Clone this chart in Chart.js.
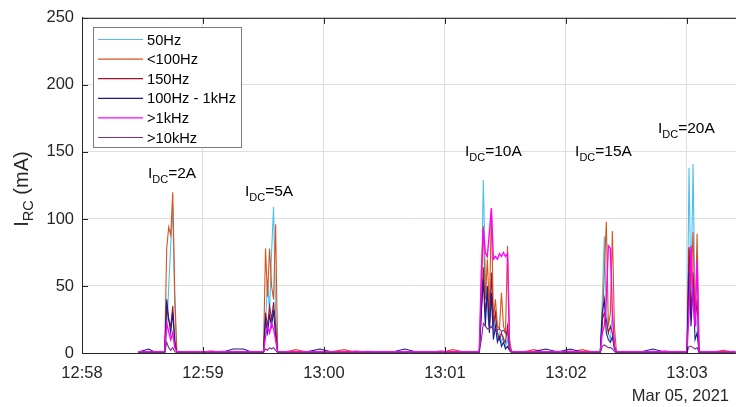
<!DOCTYPE html>
<html>
<head>
<meta charset="utf-8">
<script src="https://cdn.jsdelivr.net/npm/chart.js@4.4.1/dist/chart.umd.min.js"></script>
<style>
  html, body { margin: 0; padding: 0; background: #fff; }
  #wrap { width: 736px; height: 407px; }
</style>
</head>
<body>
<div id="wrap"><canvas id="rcChart"></canvas></div>
<script>
// seconds after 12:58:00
const times = [
  28, 33, 36, 40,
  41, 42, 43, 44, 45, 46, 47,
  51, 54, 58, 64, 70, 75, 80, 84, 89,
  90, 91, 92, 93, 94, 95, 96, 97,
  100, 106, 112, 118, 124, 130, 136, 142, 148, 154, 160, 166, 172, 178, 184, 190, 194, 197,
  198, 199, 200, 201, 202, 203, 204, 205, 206, 207, 208, 209, 210, 211, 212,
  213, 218, 224, 230, 236, 242, 248, 254, 257,
  258, 259, 260, 261, 262, 263, 264,
  265, 271, 277, 283, 289, 295, 300,
  301, 302, 303, 304, 305,
  306, 312, 318, 324
];

const hz50 = [
  0.5, 0.5, 1, 0.5,
  0.5, 15, 50, 80, 110, 35, 0.5,
  0.5, 1, 0.5, 0.5, 1.5, 0.5, 0.5, 1, 0.5,
  0.5, 20, 55, 30, 75, 109, 30, 0.5,
  0.5, 1, 0.5, 0.5, 1, 0.5, 0.5, 1.5, 0.5, 0.5, 1, 0.5, 0.5, 0.5, 1, 0.5, 0.5, 0.5,
  40, 129, 60, 30, 20, 40, 15, 25, 10, 15, 8, 12, 5, 10, 2,
  0.5, 1, 0.5, 0.5, 1.5, 0.5, 0.5, 1, 0.5,
  40, 87, 30, 15, 10, 30, 5,
  0.5, 1, 0.5, 1.5, 0.5, 1, 0.5,
  138, 40, 141, 30, 20,
  0.5, 1, 0.5, 1.5
];

const below100 = [
  0.5, 1, 0.5, 0.5,
  1, 78, 94, 88, 120, 45, 1,
  0.5, 0.5, 1, 0.5, 0.5, 1, 0.5, 0.5, 1,
  1, 78, 42, 78, 50, 40, 96, 1,
  0.5, 2.5, 0.5, 0.5, 1, 2.5, 0.5, 0.5, 1, 0.5, 0.5, 1, 0.5, 0.5, 2.5, 0.5, 0.5, 1,
  50, 95, 40, 70, 30, 108, 25, 40, 20, 18, 45, 20, 15, 80, 10,
  1, 0.5, 2.5, 0.5, 1, 0.5, 2.5, 0.5, 0.5,
  20, 60, 98, 20, 30, 91, 20,
  1, 0.5, 0.5, 1, 0.5, 0.5, 1,
  78, 50, 90, 20, 89,
  1, 0.5, 2, 0.5
];

const hz150 = [
  0.5, 0.5, 0.5, 0.5,
  0.5, 35, 25, 20, 35, 10, 0.5,
  0.5, 0.5, 0.5, 1.5, 0.5, 0.5, 0.5, 0.5, 0.5,
  0.5, 30, 20, 35, 25, 38, 20, 0.5,
  0.5, 0.5, 0.5, 0.5, 0.5, 0.5, 1.5, 0.5, 0.5, 0.5, 0.5, 0.5, 0.5, 1.5, 0.5, 0.5, 0.5, 0.5,
  30, 64, 30, 45, 20, 60, 20, 30, 15, 10, 15, 10, 8, 20, 3,
  0.5, 0.5, 0.5, 0.5, 0.5, 1.5, 0.5, 0.5, 0.5,
  25, 30, 25, 15, 20, 15, 5,
  0.5, 0.5, 0.5, 0.5, 1.5, 0.5, 0.5,
  79, 30, 60, 20, 40,
  0.5, 0.5, 0.5, 0.5
];

const hz100to1k = [
  0.8, 3, 0.8, 0.8,
  0.8, 40, 25, 15, 30, 6, 0.8,
  0.8, 0.8, 0.8, 1, 0.8, 3, 3, 0.8, 0.8,
  0.8, 25, 15, 28, 20, 32, 12, 0.8,
  0.8, 0.8, 1, 3, 0.8, 0.8, 0.8, 0.8, 1, 0.8, 3, 0.8, 0.8, 0.8, 0.8, 1, 0.8, 0.8,
  30, 55, 20, 50, 15, 45, 10, 20, 8, 12, 5, 8, 3, 5, 2,
  0.8, 0.8, 1, 3, 0.8, 3, 0.8, 0.8, 0.8,
  30, 40, 15, 10, 8, 12, 3,
  0.8, 1, 0.8, 3, 0.8, 0.8, 0.8,
  60, 20, 50, 10, 15,
  0.8, 0.8, 1, 0.8
];

const above1k = [
  1, 1, 1, 1,
  1, 22, 16, 10, 15, 4, 1,
  1, 1, 1, 1, 1, 1, 1, 1, 1,
  1, 12, 20, 15, 22, 18, 10, 1,
  1, 1, 1, 1, 1, 1, 1, 1, 1, 1, 1, 1, 1, 1, 1, 1, 1, 1,
  60, 93, 75, 72, 90, 108, 70, 72, 70, 74, 72, 75, 72, 74, 5,
  1, 1, 1, 1, 1, 1, 1, 1, 1,
  15, 20, 40, 80, 78, 30, 5,
  1, 1, 1, 1, 1, 1, 1,
  30, 80, 40, 20, 69,
  1, 1, 1, 1
];

const above10k = [
  0.3, 0.3, 0.3, 0.3,
  0.3, 8, 4, 2, 4, 1, 0.3,
  0.3, 0.3, 0.3, 0.3, 0.3, 0.3, 0.3, 0.3, 0.3,
  0.3, 3, 2, 4, 3, 4, 2, 0.3,
  0.3, 0.3, 0.3, 0.3, 0.3, 0.3, 0.3, 0.3, 0.3, 0.3, 0.3, 0.3, 0.3, 0.3, 0.3, 0.3, 0.3, 0.3,
  10, 22, 20, 18, 18, 20, 17, 18, 17, 18, 16, 17, 15, 16, 2,
  0.3, 0.3, 0.3, 0.3, 0.3, 0.3, 0.3, 0.3, 0.3,
  5, 6, 5, 4, 4, 3, 1,
  0.3, 0.3, 0.3, 0.3, 0.3, 0.3, 0.3,
  5, 5, 4, 3, 4,
  0.3, 0.3, 0.3, 0.3
];

const seriesNames = ["50Hz", "<100Hz", "150Hz", "100Hz - 1kHz", ">1kHz", ">10kHz"];
const seriesData = [hz50, below100, hz150, hz100to1k, above1k, above10k];
const seriesColors = ["#4DBEEE", "#D95319", "#A2142F", "#1B1B8C", "#FF00FF", "#7E2F8E"];

const xTickValues = [0, 60, 120, 180, 240, 300];
const xTickLabels = ["12:58", "12:59", "13:00", "13:01", "13:02", "13:03"];
const yTickValues = [0, 50, 100, 150, 200, 250];

// I_DC labels, anchored in data units (left edge, text baseline)
const idcNotes = [
  { t: 32.7, v: 130.2, text: "=2A" },
  { t: 80.8, v: 116.8, text: "=5A" },
  { t: 189.9, v: 147.3, text: "=10A" },
  { t: 244.5, v: 147.3, text: "=15A" },
  { t: 285.6, v: 164.4, text: "=20A" }
];

const FONT = "'Liberation Sans', Arial, Helvetica, sans-serif";
const AXIS_COLOR = "#262626";

function drawSubText(ctx, x, y, main, sub, rest, size, subSize) {
  ctx.font = size + "px " + FONT;
  ctx.fillText(main, x, y);
  x += ctx.measureText(main).width;
  ctx.font = subSize + "px " + FONT;
  ctx.fillText(sub, x, y + 5);
  x += ctx.measureText(sub).width;
  ctx.font = size + "px " + FONT;
  ctx.fillText(rest, x, y);
}

function subTextWidth(ctx, main, sub, rest, size, subSize) {
  ctx.font = size + "px " + FONT;
  let w = ctx.measureText(main).width + ctx.measureText(rest).width;
  ctx.font = subSize + "px " + FONT;
  return w + ctx.measureText(sub).width;
}

const overlay = {
  id: "overlay",
  afterDraw(chart) {
    const ctx = chart.ctx;
    const a = chart.chartArea;
    const x = chart.scales.x, y = chart.scales.y;
    ctx.save();

    // top border and inward tick marks
    ctx.strokeStyle = AXIS_COLOR;
    ctx.lineWidth = 1;
    ctx.beginPath();
    ctx.moveTo(a.left, a.top + 0.5);
    ctx.lineTo(a.right, a.top + 0.5);
    xTickValues.forEach(v => {
      const px = Math.round(x.getPixelForValue(v)) + 0.5;
      ctx.moveTo(px, a.bottom);
      ctx.lineTo(px, a.bottom - 6);
      ctx.moveTo(px, a.top);
      ctx.lineTo(px, a.top + 6);
    });
    yTickValues.forEach(v => {
      const py = Math.round(y.getPixelForValue(v)) + 0.5;
      ctx.moveTo(a.left, py);
      ctx.lineTo(a.left + 6, py);
    });
    ctx.stroke();

    // I_DC annotations
    ctx.fillStyle = "#000";
    ctx.textAlign = "left";
    ctx.textBaseline = "alphabetic";
    idcNotes.forEach(n => {
      drawSubText(ctx, x.getPixelForValue(n.t), y.getPixelForValue(n.v), "I", "DC", n.text, 15.5, 11);
    });

    // legend box
    const lx = 93.5, ly = 27.5, lw = 148, lh = 120;
    ctx.fillStyle = "#fff";
    ctx.fillRect(lx, ly, lw, lh);
    ctx.strokeStyle = "#7a7a7a";
    ctx.strokeRect(lx, ly, lw, lh);
    ctx.font = "14.7px " + FONT;
    ctx.textBaseline = "middle";
    seriesNames.forEach((name, i) => {
      const ry = 39.5 + i * 19.6;
      ctx.strokeStyle = seriesColors[i];
      ctx.lineWidth = 1.2;
      ctx.beginPath();
      ctx.moveTo(98, ry);
      ctx.lineTo(143, ry);
      ctx.stroke();
      ctx.fillStyle = "#000";
      ctx.fillText(name, 147, ry + 1);
    });

    // y axis title
    ctx.fillStyle = "#262626";
    ctx.textBaseline = "alphabetic";
    const tw = subTextWidth(ctx, "I", "RC", " (mA)", 20, 14.5);
    ctx.translate(28, 189);
    ctx.rotate(-Math.PI / 2);
    drawSubText(ctx, -tw / 2, 0, "I", "RC", " (mA)", 20, 14.5);
    ctx.setTransform(1, 0, 0, 1, 0, 0);

    // date under the time axis
    ctx.font = "16.5px " + FONT;
    ctx.textAlign = "right";
    ctx.fillText("Mar 05, 2021", 729, 401);
    ctx.restore();
  }
};

new Chart(document.getElementById("rcChart"), {
  type: "line",
  data: {
    datasets: seriesNames.map((name, i) => ({
      label: name,
      data: times.map((t, k) => ({ x: t, y: seriesData[i][k] })),
      borderColor: seriesColors[i],
      borderWidth: i === 4 ? 1.4 : 1.1,
      pointRadius: 0,
      tension: 0,
      order: -i
    }))
  },
  options: {
    animation: false,
    responsive: true,
    maintainAspectRatio: false,
    devicePixelRatio: 1,
    layout: { padding: { top: 17, right: 0, bottom: 0, left: 0 } },
    plugins: { legend: { display: false }, tooltip: { enabled: false } },
    scales: {
      x: {
        type: "linear",
        min: 0,
        max: 324.3,
        afterFit: s => { s.height = 54; },
        afterBuildTicks: s => { s.ticks = xTickValues.map(v => ({ value: v })); },
        ticks: {
          callback: (v) => xTickLabels[xTickValues.indexOf(v)],
          color: AXIS_COLOR,
          font: { family: FONT, size: 16.5 },
          padding: 11,
          maxRotation: 0
        },
        grid: { color: "#dfdfdf", drawTicks: false },
        border: { color: AXIS_COLOR }
      },
      y: {
        min: 0,
        max: 250,
        afterFit: s => { s.width = 82; },
        afterBuildTicks: s => { s.ticks = yTickValues.map(v => ({ value: v })); },
        ticks: {
          color: AXIS_COLOR,
          font: { family: FONT, size: 16.5 },
          padding: 8
        },
        grid: { color: "#dfdfdf", drawTicks: false },
        border: { color: AXIS_COLOR }
      }
    }
  },
  plugins: [overlay]
});
</script>
</body>
</html>
